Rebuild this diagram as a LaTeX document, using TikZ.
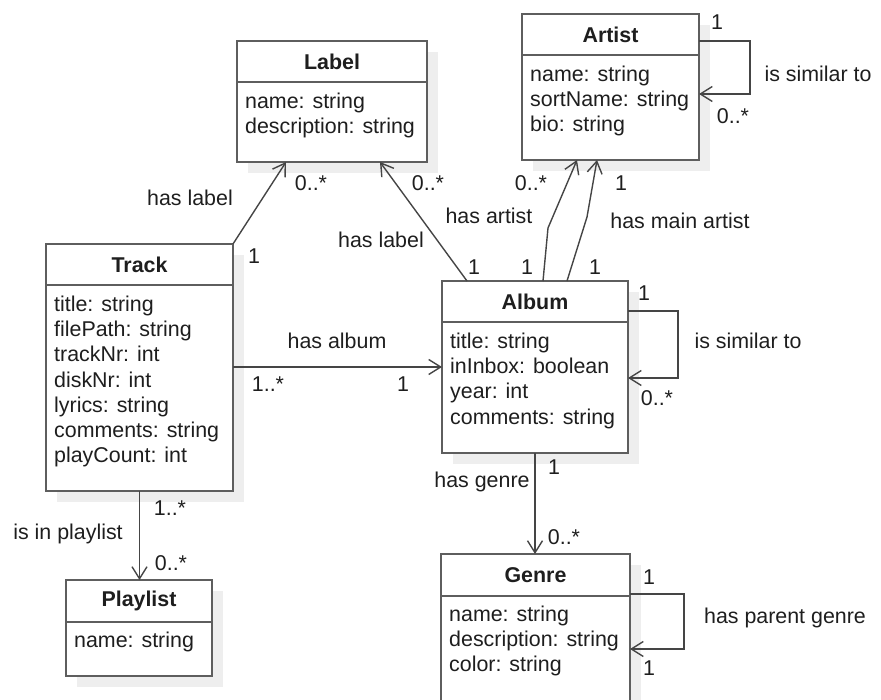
\documentclass[tikz,border=0pt]{standalone}
\usepackage{fontspec}
\setmainfont{Liberation Sans}
\usetikzlibrary{arrows.meta,calc}
\definecolor{boxc}{HTML}{5E5E5E}
\definecolor{linec}{HTML}{454545}
\definecolor{txtc}{HTML}{1E1E1E}
\definecolor{shadowc}{HTML}{EEEEEE}
\tikzset{
  classbox/.style={draw=boxc, line width=2pt, fill=white, inner sep=0pt, outer sep=0pt, anchor=north west},
  divline/.style={draw=boxc, line width=2pt},
  ctitle/.style={font=\fontsize{21.4}{25.2}\selectfont\bfseries, text=txtc, inner sep=0pt},
  attr/.style={font=\fontsize{21.4}{25.2}\selectfont, text=txtc, inner sep=0pt, anchor=base west},
  lbl/.style={font=\fontsize{21.4}{25.2}\selectfont, text=txtc, inner sep=0pt},
  assoc/.style={draw=linec, line width=1.4pt, -{Straight Barb[length=12pt,width=15pt,line width=1.4pt]}},
}
% #1 name, #2 L, #3 T, #4 R, #5 B, #6 title, #7 attributes
\newcommand\umlclass[7]{%
  \fill[shadowc] ({#2+11},{#3+11}) rectangle ({#4+11},{#5+11});
  \node[classbox, minimum width={#4pt-#2pt}, minimum height={#5pt-#3pt}] (#1) at (#2,#3) {};
  \draw[divline] (#2,{#3+41.5}) -- (#4,{#3+41.5});
  \node[ctitle] (#1-title) at ({(#2+#4)/2},{#3+21}) {#6};
  \foreach \a [count=\i] in {#7} {
    \node[attr] (#1-a\i) at ({#2+8},{#3+41.5+26+(\i-1)*25.2}) {\a};
  }
}
\begin{document}
\begin{tikzpicture}[x=1pt,y=-1pt]
\useasboundingbox (0,0) rectangle (881,700);

\umlclass{label}{237}{41}{427}{162}{Label}{name: string,description: string}
\umlclass{artist}{522}{14}{699}{160}{Artist}{name: string,sortName: string,bio: string}
\umlclass{track}{46}{244}{233}{491}{Track}{title: string,filePath: string,trackNr: int,diskNr: int,lyrics: string,comments: string,playCount: int}
\umlclass{album}{442}{281}{628}{453}{Album}{title: string,inInbox: boolean,year: int,comments: string}
\umlclass{genre}{441}{554}{630}{710}{Genre}{name: string,description: string,color: string}
\umlclass{playlist}{66}{580}{212}{676}{Playlist}{name: string}

% Track -> Label
\draw[assoc] (track.north east) -- ([xshift=49pt]label.south west);
\node[lbl] (l1) at (190,198) {has label};
\node[lbl] (l1a) at (311,183) {0..*};
\node[lbl] (l1b) at (254,256) {1};

% Album -> Label
\draw[assoc] ([xshift=25pt]album.north west) -- ([xshift=143pt]label.south west);
\node[lbl] (l2) at (381,240) {has label};
\node[lbl] (l2a) at (428,183) {0..*};
\node[lbl] (l2b) at (474,267) {1};

% Album -> Artist (has artist)
\coordinate (ha) at (548,228);
\draw[assoc] ([xshift=101pt]album.north west) -- (ha) -- ([xshift=55pt]artist.south west);
\node[lbl] (l3) at (489,216) {has artist};
\node[lbl] (l3a) at (531,183) {0..*};
\node[lbl] (l3b) at (527,267) {1};

% Album -> Artist (has main artist)
\coordinate (hm) at (587,217);
\draw[assoc] ([xshift=125pt]album.north west) -- (hm) -- ([xshift=75pt]artist.south west);
\node[lbl] (l4) at (680,221) {has main artist};
\node[lbl] (l4a) at (621,183) {1};
\node[lbl] (l4b) at (595,267) {1};

% Artist self loop
\draw[assoc] ([yshift=-27pt]artist.north east) -- ++(51,0) -- ++(0,53) -- ([yshift=-80pt]artist.north east);
\node[lbl] (l5) at (818,74) {is similar to};
\node[lbl] (l5a) at (717,22) {1};
\node[lbl] (l5b) at (733,116) {0..*};

% Track -> Album
\coordinate (ta) at (300,367);
\draw[assoc] (track.east |- ta) -- (album.west |- ta);
\node[lbl] (l6) at (337,341) {has album};
\node[lbl] (l6a) at (268,384) {1..*};
\node[lbl] (l6b) at (403,384) {1};

% Album self loop
\draw[assoc] ([yshift=-30pt]album.north east) -- ++(50,0) -- ++(0,67) -- ([yshift=-97pt]album.north east);
\node[lbl] (l7) at (748,341) {is similar to};
\node[lbl] (l7a) at (644,293) {1};
\node[lbl] (l7b) at (657,398) {0..*};

% Album -> Genre
\draw[assoc] (album.south) -- (album.south |- genre.north);
\node[lbl] (l8) at (482,482) {has genre};
\node[lbl] (l8a) at (554,467) {1};
\node[lbl] (l8b) at (564,537) {0..*};

% Genre self loop
\draw[assoc] ([yshift=-40pt]genre.north east) -- ++(54,0) -- ++(0,55) -- ([yshift=-95pt]genre.north east);
\node[lbl] (l9) at (785,618) {has parent genre};
\node[lbl] (l9a) at (649,577) {1};
\node[lbl] (l9b) at (649,668) {1};

% Track -> Playlist
\draw[assoc] (track.south) -- (track.south |- playlist.north);
\node[lbl] (l10) at (68,534) {is in playlist};
\node[lbl] (l10a) at (170,508) {1..*};
\node[lbl] (l10b) at (171,563) {0..*};
\end{tikzpicture}
\end{document}
